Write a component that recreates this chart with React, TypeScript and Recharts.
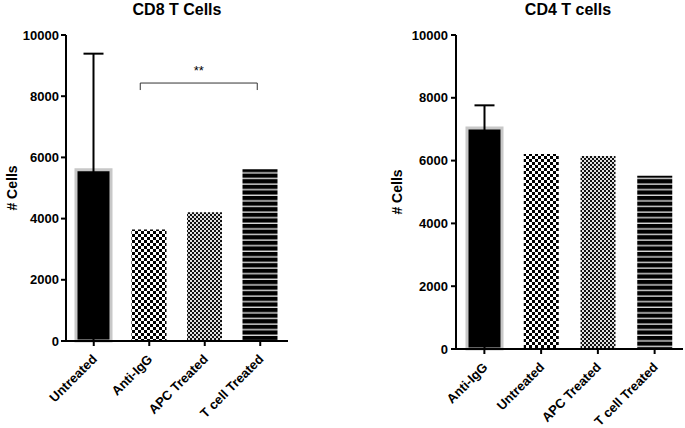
import React from 'react';
import { BarChart, Bar, XAxis, YAxis, Cell, ErrorBar, ReferenceLine } from 'recharts';

const cd8Categories = ['Untreated', 'Anti-IgG', 'APC Treated', 'T cell Treated'];
const cd8Values = [5600, 3640, 4210, 5610];
const cd8ErrorUpper: (number | null)[] = [3790, null, null, null];

const cd4Categories = ['Anti-IgG', 'Untreated', 'APC Treated', 'T cell Treated'];
const cd4Values = [7040, 6210, 6150, 5520];
const cd4ErrorUpper: (number | null)[] = [720, null, null, null];

const yTicks = [0, 2000, 4000, 6000, 8000, 10000];
const bracketValue = 8430;
const bracketFrom = 'Anti-IgG';
const bracketTo = 'T cell Treated';

const FONT = '"Liberation Sans", Arial, sans-serif';

const buildRows = (cats: string[], vals: number[], errs: (number | null)[]) =>
  cats.map((c, i) => ({
    name: c,
    value: vals[i],
    err: errs[i] == null ? null : [vals[i], errs[i] as number],
  }));

const cd8Data = buildRows(cd8Categories, cd8Values, cd8ErrorUpper);
const cd4Data = buildRows(cd4Categories, cd4Values, cd4ErrorUpper);

const Patterns = ({ p }: { p: string }) => (
  <defs>
    <pattern id={`${p}-big`} width={6} height={6} patternUnits="userSpaceOnUse">
      <rect x={0} y={0} width={6} height={6} fill="#fff" />
      <rect x={0} y={0} width={3} height={3} fill="#000" />
      <rect x={3} y={3} width={3} height={3} fill="#000" />
    </pattern>
    <pattern id={`${p}-fine`} width={4} height={4} patternUnits="userSpaceOnUse">
      <rect x={0} y={0} width={4} height={4} fill="#e0e0e0" />
      <rect x={0} y={0} width={2} height={2} fill="#111" />
      <rect x={2} y={2} width={2} height={2} fill="#111" />
    </pattern>
    <pattern id={`${p}-stripe`} width={8} height={5.6} patternUnits="userSpaceOnUse">
      <rect x={0} y={0} width={8} height={5.6} fill="#000" />
      <rect x={0} y={4.2} width={8} height={1.4} fill="#d8d8d8" />
    </pattern>
  </defs>
);

const fillsFor = (p: string) => ['#000', `url(#${p}-big)`, `url(#${p}-fine)`, `url(#${p}-stripe)`];

const CategoryTick = (props: any) => {
  const { x, y, payload } = props;
  const ax = x + 4;
  const ay = y + 12;
  return (
    <text
      x={ax}
      y={ay}
      transform={`rotate(-45, ${ax}, ${ay})`}
      textAnchor="end"
      fontSize={13}
      fontWeight="bold"
      fontFamily={FONT}
      fill="#000"
    >
      {payload.value}
    </text>
  );
};

const Bracket = (props: any) => {
  const { x1, y1, x2 } = props;
  const l = x1 - 9;
  const r = x2 - 3;
  return (
    <g>
      <path d={`M${l},${y1 + 7} V${y1} H${r} V${y1 + 7}`} stroke="#333" strokeWidth={1} fill="none" />
      <text x={(l + r) / 2} y={y1 - 8} textAnchor="middle" fontSize={13} fontFamily={FONT} fill="#000">
        **
      </text>
    </g>
  );
};

const axisCommon = {
  stroke: '#000',
  strokeWidth: 2,
  tickSize: 5,
};

const yTickStyle = { fontSize: 13, fontWeight: 'bold' as const, fontFamily: FONT, fill: '#000' };

export default function App() {
  return (
    <div style={{ position: 'absolute', left: 0, top: 0, width: 685, height: 428, background: '#fff' }}>
      <div style={{ position: 'absolute', left: 0, top: 0 }}>
        <BarChart width={300} height={428} data={cd8Data} margin={{ top: 35, right: 12, bottom: 0, left: 0 }} barSize={35}>
          <Patterns p="cd8" />
          <text x={177} y={15} textAnchor="middle" fontSize={16} fontWeight="bold" fontFamily={FONT} fill="#000">
            CD8 T Cells
          </text>
          <XAxis
            dataKey="name"
            {...axisCommon}
            height={87}
            interval={0}
            tick={<CategoryTick />}
            tickLine={{ stroke: '#000', strokeWidth: 2 }}
          />
          <YAxis
            {...axisCommon}
            width={66}
            domain={[0, 10000]}
            ticks={yTicks}
            tick={yTickStyle}
            tickMargin={2}
            tickLine={{ stroke: '#000', strokeWidth: 2 }}
            label={{
              value: '# Cells',
              angle: -90,
              position: 'insideLeft',
              offset: 12,
              style: { textAnchor: 'middle', fontSize: 14, fontWeight: 'bold', fontFamily: FONT, fill: '#000' },
            }}
          />
          <ReferenceLine
            segment={[
              { x: bracketFrom, y: bracketValue },
              { x: bracketTo, y: bracketValue },
            ]}
            shape={<Bracket />}
          />
          <Bar dataKey="value" isAnimationActive={false}>
            {cd8Data.map((d, i) => (
              <Cell
                key={d.name}
                fill={fillsFor('cd8')[i]}
                stroke={i === 0 ? '#c8c8c8' : 'none'}
                strokeWidth={i === 0 ? 3 : 0}
              />
            ))}
            <ErrorBar dataKey="err" direction="y" width={10} stroke="#000" strokeWidth={2} isAnimationActive={false} />
          </Bar>
        </BarChart>
      </div>
      <div style={{ position: 'absolute', left: 370, top: 0 }}>
        <BarChart width={315} height={428} data={cd4Data} margin={{ top: 35, right: 2, bottom: 0, left: 0 }} barSize={35}>
          <Patterns p="cd4" />
          <text x={198} y={15} textAnchor="middle" fontSize={16} fontWeight="bold" fontFamily={FONT} fill="#000">
            CD4 T cells
          </text>
          <XAxis
            dataKey="name"
            {...axisCommon}
            height={79}
            interval={0}
            tick={<CategoryTick />}
            tickLine={{ stroke: '#000', strokeWidth: 2 }}
          />
          <YAxis
            {...axisCommon}
            width={86}
            domain={[0, 10000]}
            ticks={yTicks}
            tick={yTickStyle}
            tickMargin={3}
            tickLine={{ stroke: '#000', strokeWidth: 2 }}
            label={{
              value: '# Cells',
              angle: -90,
              position: 'insideLeft',
              offset: 27,
              style: { textAnchor: 'middle', fontSize: 14, fontWeight: 'bold', fontFamily: FONT, fill: '#000' },
            }}
          />
          <Bar dataKey="value" isAnimationActive={false}>
            {cd4Data.map((d, i) => (
              <Cell
                key={d.name}
                fill={fillsFor('cd4')[i]}
                stroke={i === 0 ? '#c8c8c8' : 'none'}
                strokeWidth={i === 0 ? 3 : 0}
              />
            ))}
            <ErrorBar dataKey="err" direction="y" width={10} stroke="#000" strokeWidth={2} isAnimationActive={false} />
          </Bar>
        </BarChart>
      </div>
    </div>
  );
}
